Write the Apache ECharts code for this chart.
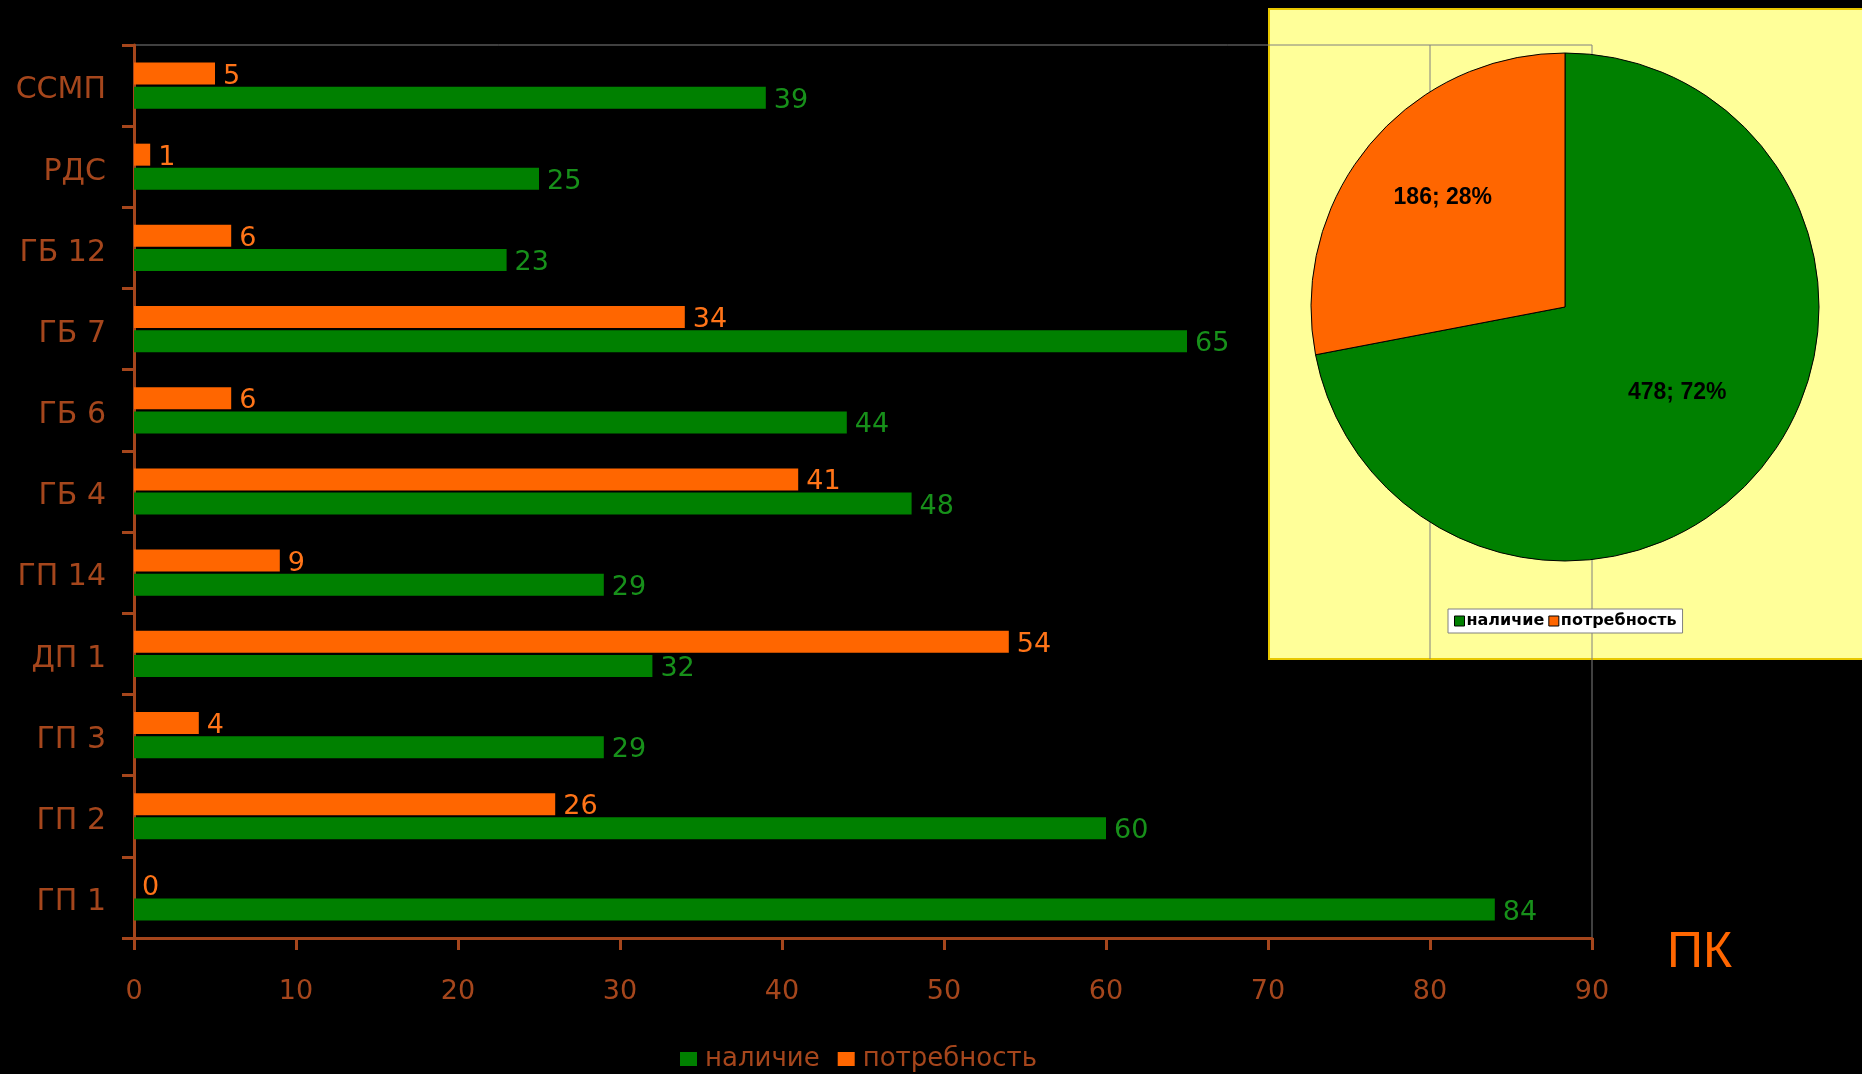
<!DOCTYPE html>
<html>
<head>
<meta charset="utf-8">
<script src="https://cdn.jsdelivr.net/npm/echarts@6/dist/echarts.min.js"></script>
<style>
html,body{margin:0;padding:0;background:#000;}
#chart{width:1862px;height:1074px;}
</style>
</head>
<body>
<div id="chart"></div>
<script>
// ---- data ----
const categories = ['ГП 1', 'ГП 2', 'ГП 3', 'ДП 1', 'ГП 14', 'ГБ 4', 'ГБ 6', 'ГБ 7', 'ГБ 12', 'РДС', 'ССМП'];
const nalichie = [84, 60, 29, 32, 29, 48, 44, 65, 23, 25, 39];
const potrebnost = [0, 26, 4, 54, 9, 41, 6, 34, 6, 1, 5];
const seriesNames = ['наличие', 'потребность'];
const pieValues = [478, 186];
const xMin = 0, xMax = 90, xStep = 10;
const unitLabel = 'ПК';

// ---- layout ----
const GRID = { left: 134, top: 45, width: 1458, height: 893 };
const BROWN = '#A5461C';
const GREEN = '#008000';
const ORANGE = '#FF6600';
const xToPx = v => GRID.left + (v - xMin) / (xMax - xMin) * GRID.width;

const chart = echarts.init(document.getElementById('chart'), null, { renderer: 'canvas' });

const option = {
  backgroundColor: '#000',
  animation: false,
  grid: {
    left: GRID.left, top: GRID.top, width: GRID.width, height: GRID.height,
    show: true, borderColor: '#808080', borderWidth: 1, backgroundColor: 'transparent'
  },
  legend: [{
    data: seriesNames,
    left: 680, top: 1046, padding: 0,
    icon: 'rect', itemWidth: 17, itemHeight: 14, itemGap: 18,
    textStyle: { color: BROWN, fontSize: 26, fontFamily: 'DejaVu Sans', padding: [0, 0, 0, 3] }
  }, {
    data: seriesNames,
    left: 1448, top: 609, padding: [4, 6, 4, 6],
    backgroundColor: '#fff', borderColor: '#808080', borderWidth: 1, borderRadius: 0,
    icon: 'rect', itemWidth: 10, itemHeight: 10, itemGap: 4,
    itemStyle: { borderColor: '#000', borderWidth: 1 },
    textStyle: { color: '#000', fontSize: 16, fontWeight: 'bold', fontFamily: 'DejaVu Sans', padding: [0, 0, 0, -3] }
  }],
  xAxis: {
    type: 'value', min: xMin, max: xMax, interval: xStep,
    axisLine: { show: true, lineStyle: { color: BROWN, width: 3 } },
    axisTick: { show: true, length: 12, lineStyle: { color: BROWN, width: 3 } },
    splitLine: { show: false },
    axisLabel: { color: BROWN, fontSize: 27, fontFamily: 'DejaVu Sans', margin: 40 }
  },
  yAxis: {
    type: 'category', data: categories,
    axisLine: { show: true, lineStyle: { color: BROWN, width: 3 } },
    axisTick: { show: true, length: 12, lineStyle: { color: BROWN, width: 3 } },
    axisLabel: {
      margin: 28,
      formatter: v => '{c|' + v + '}',
      rich: { c: { color: BROWN, fontSize: 30, fontFamily: 'DejaVu Sans', padding: [10, 0, 0, 0] } }
    }
  },
  graphic: [
    { type: 'rect', z: -1, silent: true,
      shape: { x: 1269, y: 9, width: 600, height: 650 },
      style: { fill: '#FFFF99', stroke: '#E8C800', lineWidth: 2 } },
    { type: 'line', z: 0, silent: true,
      shape: { x1: xToPx(80), y1: GRID.top, x2: xToPx(80), y2: 659 },
      style: { stroke: '#808080', lineWidth: 1 } },
    { type: 'text', z: 5, left: 1667, top: 928,
      style: { text: unitLabel, fill: ORANGE, font: '50px "Liberation Sans"' } }
  ],
  series: [{
    name: seriesNames[1], type: 'bar', data: potrebnost,
    barWidth: 22, barGap: '10%',
    itemStyle: { color: ORANGE },
    label: { show: true, position: 'right', distance: 8, offset: [0, 3], color: '#FF7418', fontSize: 27, fontFamily: 'DejaVu Sans' }
  }, {
    name: seriesNames[0], type: 'bar', data: nalichie,
    barWidth: 22, barGap: '10%',
    itemStyle: { color: GREEN },
    label: { show: true, position: 'right', distance: 8, offset: [0, 3], color: '#17901A', fontSize: 27, fontFamily: 'DejaVu Sans' }
  }, {
    name: 'pie', type: 'pie', z: 3,
    center: [1565, 307], radius: 254,
    startAngle: 90, clockwise: true,
    data: [
      { name: seriesNames[0], value: pieValues[0], itemStyle: { color: GREEN } },
      { name: seriesNames[1], value: pieValues[1], itemStyle: { color: ORANGE } }
    ],
    itemStyle: { borderColor: '#000', borderWidth: 1 },
    label: {
      show: true, position: 'inside', color: '#000', fontSize: 23, fontWeight: 'bold',
      fontFamily: 'Liberation Sans',
      formatter: p => p.value + '; ' + Math.round(p.percent) + '%'
    },
    labelLayout: p => p.dataIndex === 1 ? { dx: -22, dy: -27 } : { dx: 12, dy: 3 },
    labelLine: { show: false },
    emphasis: { disabled: true }
  }]
};
chart.setOption(option);
</script>
</body>
</html>
